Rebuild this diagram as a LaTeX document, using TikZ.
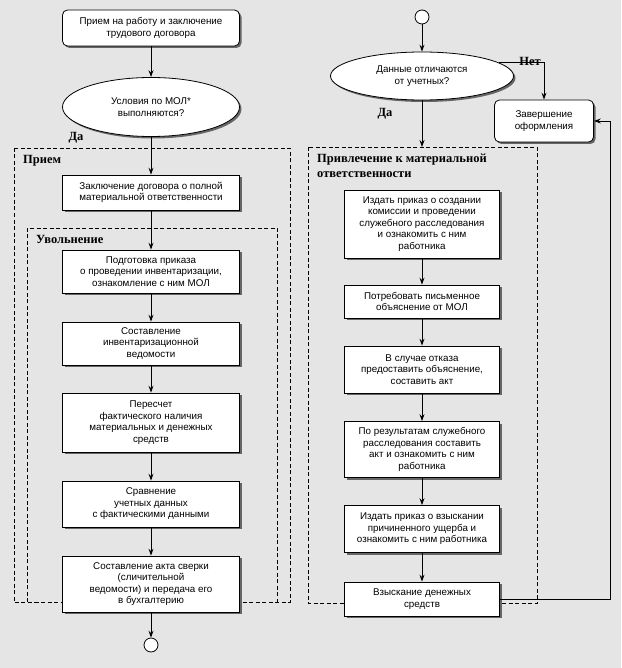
\documentclass[tikz,border=0pt]{standalone}
\usepackage{fontspec}
\setmainfont{Liberation Sans}
\newfontfamily\headfont{Liberation Serif}
\usetikzlibrary{arrows.meta,positioning,shapes.geometric,shadows}

\tikzset{
  act/.style={draw, fill=white, line width=0.8pt, minimum width=177pt, inner ysep=2pt,
    align=center, font=\fontsize{9.8}{11.5}\selectfont,
    drop shadow={shadow xshift=2pt, shadow yshift=-2pt, fill=black!60, opacity=1}},
  actr/.style={act, minimum width=155pt},
  cond/.style={act, ellipse, inner sep=0pt},
  term/.style={circle, draw, fill=white, line width=0.8pt, minimum size=14pt, inner sep=0pt},
  frame/.style={line width=0.9pt, dash pattern=on 4pt off 2.5pt},
  ftitle/.style={anchor=north west, inner sep=0pt, align=left,
    font=\headfont\bfseries\fontsize{12.5}{15}\selectfont},
  ans/.style={inner sep=0pt, font=\headfont\bfseries\fontsize{12.5}{14}\selectfont}
}

\begin{document}
\begin{tikzpicture}[x=1pt, y=1pt, on grid, >={Stealth[length=7pt, width=5pt, inset=2.5pt]}]
\fill[black!10] (0,0) rectangle (621,-668);

\draw[frame] (14,-148) rectangle (290,-602);
\draw[frame] (27,-602) -- (27,-228) -- (277,-228) -- (277,-602);
\draw[frame] (308,-147) rectangle (537,-603);
\node[ftitle] (priem) at (23,-155) {Прием};
\node[ftitle] (uvol) at (36,-235) {Увольнение};
\node[ftitle] (privl) at (317,-154) {Привлечение к материальной\\ответственности};

\node[act, rounded corners=5pt, minimum height=36pt] (b1) at (151,-28) {Прием на работу и заключение\\трудового договора};
\node[cond, minimum width=177pt, minimum height=59pt, below=79pt of b1] (dec1) {Условия по МОЛ*\\выполняются?};
\node[act, minimum height=35pt, below=85.5pt of dec1] (b2) {Заключение договора о полной\\материальной ответственности};
\node[act, minimum height=43pt, below=79pt of b2] (b3) {Подготовка приказа\\о проведении инвентаризации,\\ознакомление с ним МОЛ};
\node[act, minimum height=43pt, below=72pt of b3] (b4) {Составление\\инвентаризационной\\ведомости};
\node[act, minimum height=59pt, below=79pt of b4] (b5) {Пересчет\\фактического наличия\\материальных и денежных\\средств};
\node[act, minimum height=46pt, below=81.5pt of b5] (b6) {Сравнение\\учетных данных\\с фактическими данными};
\node[act, minimum height=56pt, below=80pt of b6] (b7) {Составление акта сверки\\(сличительной\\ведомости) и передача его\\в бухгалтерию};
\node[term, below=61pt of b7] (end) {};
\node[ans] (yes1) at (76,-138) {Да};

\node[term] (start) at (422,-17) {};
\node[cond, minimum width=183pt, minimum height=48pt, below=59pt of start] (dec2) {Данные отличаются\\от учетных?};
\coordinate[below=130pt of start] (ftop);
\node[act, rounded corners=5pt, minimum width=99pt, minimum height=42pt, below right=45pt and 122pt of dec2] (fin) {Завершение\\оформления};
\node[actr, minimum height=68pt, below=207pt of start] (r1) {Издать приказ о создании\\комиссии и проведении\\служебного расследования\\и ознакомить с ним\\работника};
\node[actr, minimum height=33pt, below=77.5pt of r1] (r2) {Потребовать письменное\\объяснение от МОЛ};
\node[actr, minimum height=47pt, below=68pt of r2] (r3) {В случае отказа\\предоставить объяснение,\\составить акт};
\node[actr, minimum height=56pt, below=80pt of r3] (r4) {По результатам служебного\\расследования составить\\акт и ознакомить с ним\\работника};
\node[actr, minimum height=47pt, below=79.5pt of r4] (r5) {Издать приказ о взыскании\\причиненного ущерба и\\ознакомить с ним работника};
\node[actr, minimum height=34pt, below=70pt of r5] (r6) {Взыскание денежных\\средств};
\node[ans] (yes2) at (385,-114) {Да};
\node[ans] (no) at (530,-61) {Нет};

\path[->, line width=0.8pt]
  (b1) edge (dec1)
  (dec1) edge (b2)
  (b2) edge (b3)
  (b3) edge (b4)
  (b4) edge (b5)
  (b5) edge (b6)
  (b6) edge (b7)
  (b7) edge (end)
  (start) edge (dec2)
  (dec2) edge (ftop)
  (r1) edge (r2)
  (r2) edge (r3)
  (r3) edge (r4)
  (r4) edge (r5)
  (r5) edge (r6);
\draw[->, line width=0.8pt] (dec2.10) -| (fin.north);
\draw[->, line width=0.8pt] (r6.east) -- ++(110pt,0) |- (fin.east);
\end{tikzpicture}
\end{document}
